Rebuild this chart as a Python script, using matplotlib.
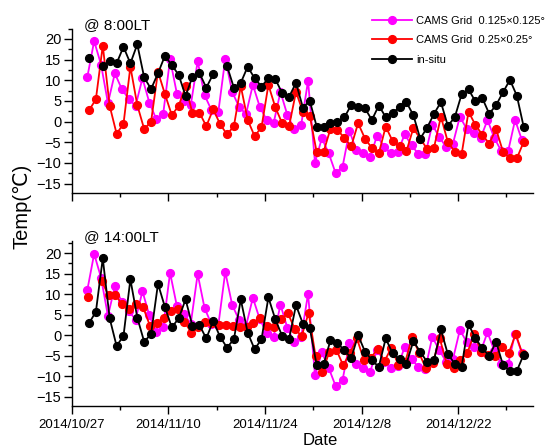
import numpy as np
import pandas as pd
import matplotlib
matplotlib.use("Agg")
import matplotlib.pyplot as plt
from matplotlib.ticker import MultipleLocator

plt.rcParams["font.family"] = ["Liberation Sans", "DejaVu Sans"]

nan = np.nan

# daily values, 2014/10/29 .. 2014/12/31
dates = pd.date_range("2014-10-29", "2014-12-31", freq="D")

# @ 8:00LT
am_cams125 = [10.7, 19.5, 13.8, 4.5, 11.7, 7.9, 5.5, 3.8, 10.5, 4.6, 0.6, 1.8, 15.1, 6.7, 5.0, 4.0,
              14.6, 6.4, 2.8, 2.4, 15.2, 7.2, 3.6, 1.8, 8.9, 3.6, 0.4, -0.4, 7.2, 1.6, -1.8, -0.8,
              9.9, -9.9, -4.0, -7.7, -12.5, -10.9, -2.3, -6.9, -7.7, -8.5, -3.4, -6.1, -7.7, -7.3,
              -3.1, -5.7, -7.9, -7.9, -0.7, -3.7, -6.1, -5.3, 1.2, -1.8, -2.8, -4.0, 0.4, -4.0,
              -7.1, -7.1, 0.4, -4.5]
am_cams25 = [2.7, 5.4, 18.4, 3.8, -2.9, -0.6, 13.3, 4.0, -1.8, 0.0, 12.1, 6.7, 1.6, 3.8, 8.6, 2.0,
             2.2, -1.1, 3.0, -0.6, -3.1, -1.1, 8.6, 0.4, -3.5, -1.4, 8.9, 3.5, -0.4, -1.1, 7.2, 2.4,
             1.4, -7.4, -7.3, -1.7, -2.0, -3.9, -6.0, -0.4, -4.1, -6.4, -7.7, -1.2, -4.7, -6.0,
             -7.2, -1.6, -4.1, -6.6, -6.3, 1.2, -4.9, -7.3, -7.9, 2.4, -0.8, -3.2, -5.3, -1.8,
             -7.3, -8.9, -8.9, -4.9]
am_insitu = [15.4, nan, 13.5, 14.7, 14.1, 18.1, 14.1, 18.7, 10.7, 7.9, 11.7, 15.9, 13.7, 11.3, 6.2,
             10.9, 11.8, 8.2, 11.5, nan, 13.5, 8.2, 9.4, 13.3, 10.5, 8.5, 10.5, 10.3, 6.9, 6.0, 9.4,
             3.4, 5.0, -1.2, -1.3, -0.3, 0.0, 1.0, 4.0, 3.5, 3.2, 0.4, 3.9, 1.1, 2.1, 3.5, 4.7, 1.6,
             -4.1, -1.5, 1.9, 4.7, -1.0, 1.0, 6.6, 7.8, 4.9, 5.7, 1.9, 4.0, 7.1, 10.1, 6.3, -1.3]

# @ 14:00LT
pm_cams125 = [10.9, 19.8, 14.0, 4.7, 11.9, 8.1, 5.9, 3.8, 10.7, 4.8, 0.7, 2.0, 15.2, 7.0, 5.2, 2.8,
              14.9, 6.6, 2.7, 2.5, 15.4, 7.4, 3.7, 2.2, 9.1, 3.9, 0.6, -0.4, 7.4, 1.8, -1.7, -0.4,
              10.1, -9.7, -4.2, -8.0, -12.4, -10.9, -2.0, -6.9, -8.0, -8.9, -3.5, -6.4, -8.0, -7.6,
              -2.9, -5.8, -7.8, -8.2, -0.4, -3.6, -6.4, -5.8, 1.3, -1.7, -2.8, -4.0, 0.7, -3.8,
              -7.0, -7.0, 0.4, -4.4]
pm_cams25 = [9.2, nan, 13.2, 9.7, 9.7, 7.5, 6.5, 7.7, 6.9, 2.3, 3.0, 4.3, 6.0, 6.5, 3.3, 0.6,
             1.9, 3.3, 3.0, 2.5, 2.5, 2.3, 2.1, 2.1, 3.0, 4.3, 2.2, 1.9, 3.9, 5.3, 1.5, -0.2,
             5.5, -5.1, -9.0, -4.0, -3.5, -7.3, -4.3, -0.8, -6.0, -5.5, -3.4, -6.3, -3.0, -7.3,
             -6.5, -0.4, -4.3, -8.1, -6.7, -0.8, -6.9, -8.1, -6.0, -4.3, 0.4, -4.1, -4.7, -5.0,
             -2.9, -4.4, 0.3, -4.6]
pm_insitu = [2.9, 5.7, 18.7, 4.1, -2.6, -0.2, 13.6, 4.3, -1.6, 0.3, 12.5, 6.9, 1.9, 4.1, 8.7, 2.2,
             2.5, -0.8, 3.5, -0.4, -3.0, -1.0, 8.7, 0.6, -3.4, -1.0, 9.2, 3.9, -0.2, -0.9, 7.3, 2.8,
             1.7, -7.3, -7.1, -1.2, -2.0, -3.6, -5.6, 0.0, -4.0, -6.1, -7.7, -0.8, -4.4, -5.9,
             -6.9, -1.5, -4.0, -6.5, -6.1, 1.4, -4.6, -6.9, -7.7, 2.7, -0.8, -3.1, -5.1, -1.6,
             -7.3, -8.7, -8.7, -4.7]

labels = ["CAMS Grid  0.125\u00d70.125\u00b0", "CAMS Grid  0.25\u00d70.25\u00b0", "in-situ"]
colors = ["#ff00ff", "#ff0000", "#000000"]

tick_dates = pd.date_range("2014-10-27", periods=5, freq="14D")
tick_labels = ["2014/10/27", "2014/11/10", "2014/11/24", "2014/12/8", "2014/12/22"]
minor_dates = pd.date_range("2014-10-27", "2015-01-01", freq="7D")

fig = plt.figure(figsize=(5.45, 4.48), dpi=100)
ax1 = fig.add_axes([0.1316, 0.569, 0.8458, 0.367])
ax2 = fig.add_axes([0.1316, 0.0931, 0.8458, 0.3696])

panels = [
    (ax1, "@ 8:00LT", [am_cams125, am_cams25, am_insitu], [6, 12, 12], (-17.3, 22.5)),
    (ax2, "@ 14:00LT", [pm_cams125, pm_cams25, pm_insitu], [6, 8, 12], (-17.3, 23.0)),
]

for ax, title, series, hours, ylim in panels:
    for vals, h, c, lab in zip(series, hours, colors, labels):
        ax.plot(dates + pd.Timedelta(hours=h), vals, color=c, lw=1.3,
                marker="o", ms=5.6, mec=c, label=lab)
    ax.set_xlim(pd.Timestamp("2014-10-27"), pd.Timestamp("2014-10-27") + pd.Timedelta(days=66.8))
    ax.set_ylim(*ylim)
    ax.set_xticks(tick_dates)
    ax.set_xticks(minor_dates, minor=True)
    ax.set_xticklabels(tick_labels)
    ax.yaxis.set_major_locator(MultipleLocator(5))
    ax.yaxis.set_minor_locator(MultipleLocator(2.5))
    for s in ["top", "right"]:
        ax.spines[s].set_visible(False)
    for s in ["left", "bottom"]:
        ax.spines[s].set_linewidth(1.0)
    ax.tick_params(which="major", direction="out", length=6, width=1)
    ax.tick_params(which="minor", direction="out", length=3, width=1)
    ax.tick_params(axis="x", labelsize=9.5)
    ax.tick_params(axis="y", labelsize=10.5, pad=1.5)
    ax.text(0.027, 1.0, title, transform=ax.transAxes, fontsize=11, va="baseline", ha="left")

ax1.tick_params(axis="x", labelbottom=False)

fig.legend(ax1.get_lines(), labels, loc="upper left", bbox_to_anchor=(0.682, 0.965),
           frameon=False, fontsize=8, handlelength=3.6, handletextpad=0.4,
           labelspacing=0.85, borderpad=0, borderaxespad=0)

fig.text(0.04, 0.54, "Temp(\u2103)", rotation=90, fontsize=14.5, ha="center", va="center")
fig.text(0.587, 0.016, "Date", fontsize=12, ha="center", va="center")

fig.savefig("out.png", dpi=100)
